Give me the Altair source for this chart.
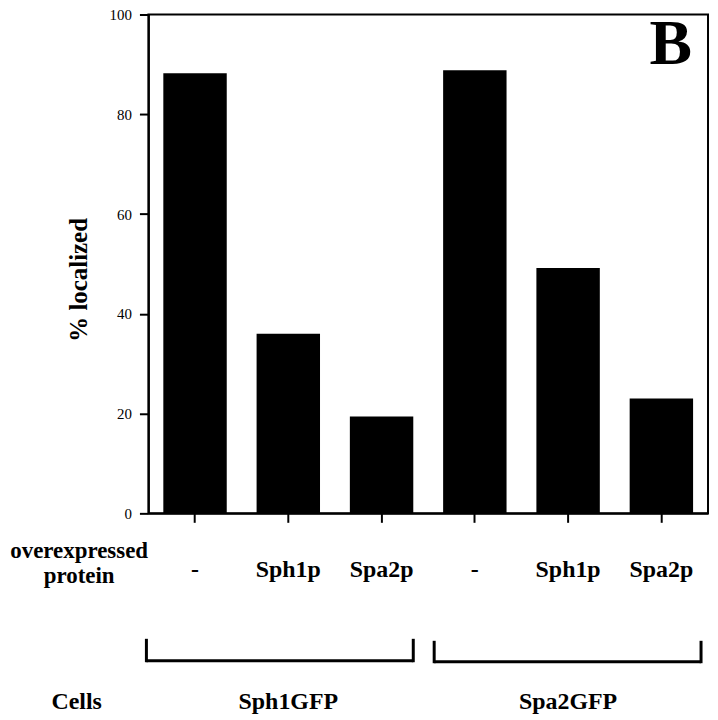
import altair as alt
import pandas as pd

# ---- data ----
cells = ["Sph1GFP", "Sph1GFP", "Sph1GFP", "Spa2GFP", "Spa2GFP", "Spa2GFP"]
proteins = ["-", "Sph1p", "Spa2p", "-", "Sph1p", "Spa2p"]
localized = [88.2, 36.0, 19.4, 88.8, 49.2, 23.0]
y_ticks = [0, 20, 40, 60, 80, 100]
group_names = ["Sph1GFP", "Spa2GFP"]

keys = [f"{c}|{p}" for c, p in zip(cells, proteins)]
df = pd.DataFrame({"key": keys, "cell": cells, "protein": proteins, "value": localized})
grp = pd.DataFrame({"key": [keys[1], keys[4]], "label": group_names})

SERIF = "Liberation Serif"

xscale = alt.Scale(domain=keys, paddingInner=0.32, paddingOuter=0.16)

bars = alt.Chart(df).mark_bar(color="black").encode(
    x=alt.X(
        "key:N",
        scale=xscale,
        axis=alt.Axis(
            labelExpr="split(datum.label, '|')[1]",
            labelAngle=0,
            labelFont=SERIF,
            labelFontSize=24,
            labelFontWeight="bold",
            labelBaseline="alphabetic",
            labelPadding=54,
            tickSize=9,
            tickWidth=2,
            tickColor="black",
            domainWidth=2,
            domainColor="black",
            title=["overexpressed", "protein"],
            titleFont=SERIF,
            titleFontSize=23,
            titleFontWeight="bold",
            titleX=-70,
            titleY=44,
            titleAlign="center",
            titleBaseline="alphabetic",
            titleLineHeight=25,
            titleAngle=0,
        ),
    ),
    y=alt.Y(
        "value:Q",
        scale=alt.Scale(domain=[0, 100], nice=False),
        axis=alt.Axis(
            values=y_ticks,
            grid=False,
            labelFont=SERIF,
            labelFontSize=15,
            labelPadding=8,
            tickSize=9,
            tickWidth=2,
            tickColor="black",
            domainWidth=2,
            domainColor="black",
            title="% localized",
            titleFont=SERIF,
            titleFontSize=25,
            titleFontWeight="bold",
            titleX=-62,
            titleY=266,
            titleAngle=-90,
            titleAlign="center",
            titleBaseline="alphabetic",
        ),
    ),
)

group_text = alt.Chart(grp).mark_text(
    font=SERIF, fontSize=24, fontWeight="bold", baseline="alphabetic", align="center"
).encode(x=alt.X("key:N", scale=xscale), y=alt.value(697), text="label:N")

cells_text = alt.Chart(pd.DataFrame({"t": ["Cells"]})).mark_text(
    font=SERIF, fontSize=24, fontWeight="bold", baseline="alphabetic", align="center"
).encode(x=alt.value(-72), y=alt.value(697), text="t:N")

b_text = alt.Chart(pd.DataFrame({"t": ["B"]})).mark_text(
    font=SERIF, fontSize=64, fontWeight="bold", baseline="alphabetic", align="right"
).encode(x=alt.value(546), y=alt.value(50), text="t:N")

def bracket(x1, x2, ytop, ybot):
    base = alt.Chart(pd.DataFrame({"a": [0]}))
    h = base.mark_rule(color="black", strokeWidth=3).encode(
        x=alt.value(x1), x2=alt.value(x2), y=alt.value(ybot)
    )
    l = base.mark_rule(color="black", strokeWidth=3).encode(
        x=alt.value(x1), y=alt.value(ytop), y2=alt.value(ybot + 1.5)
    )
    r = base.mark_rule(color="black", strokeWidth=3).encode(
        x=alt.value(x2), y=alt.value(ytop), y2=alt.value(ybot + 1.5)
    )
    return [h, l, r]

br = bracket(-2, 266, 627, 649) + bracket(287, 555, 629, 650)

chart = alt.layer(bars, group_text, cells_text, b_text, *br).properties(
    width=562,
    height=501,
    autosize="none",
    padding={"left": 141, "top": 5, "right": 2, "bottom": 200},
).configure_view(stroke="black", strokeWidth=2).configure_axis(
    labelColor="black", titleColor="black"
)

chart.save("out.html", embed_options={"renderer": "svg", "actions": False})
